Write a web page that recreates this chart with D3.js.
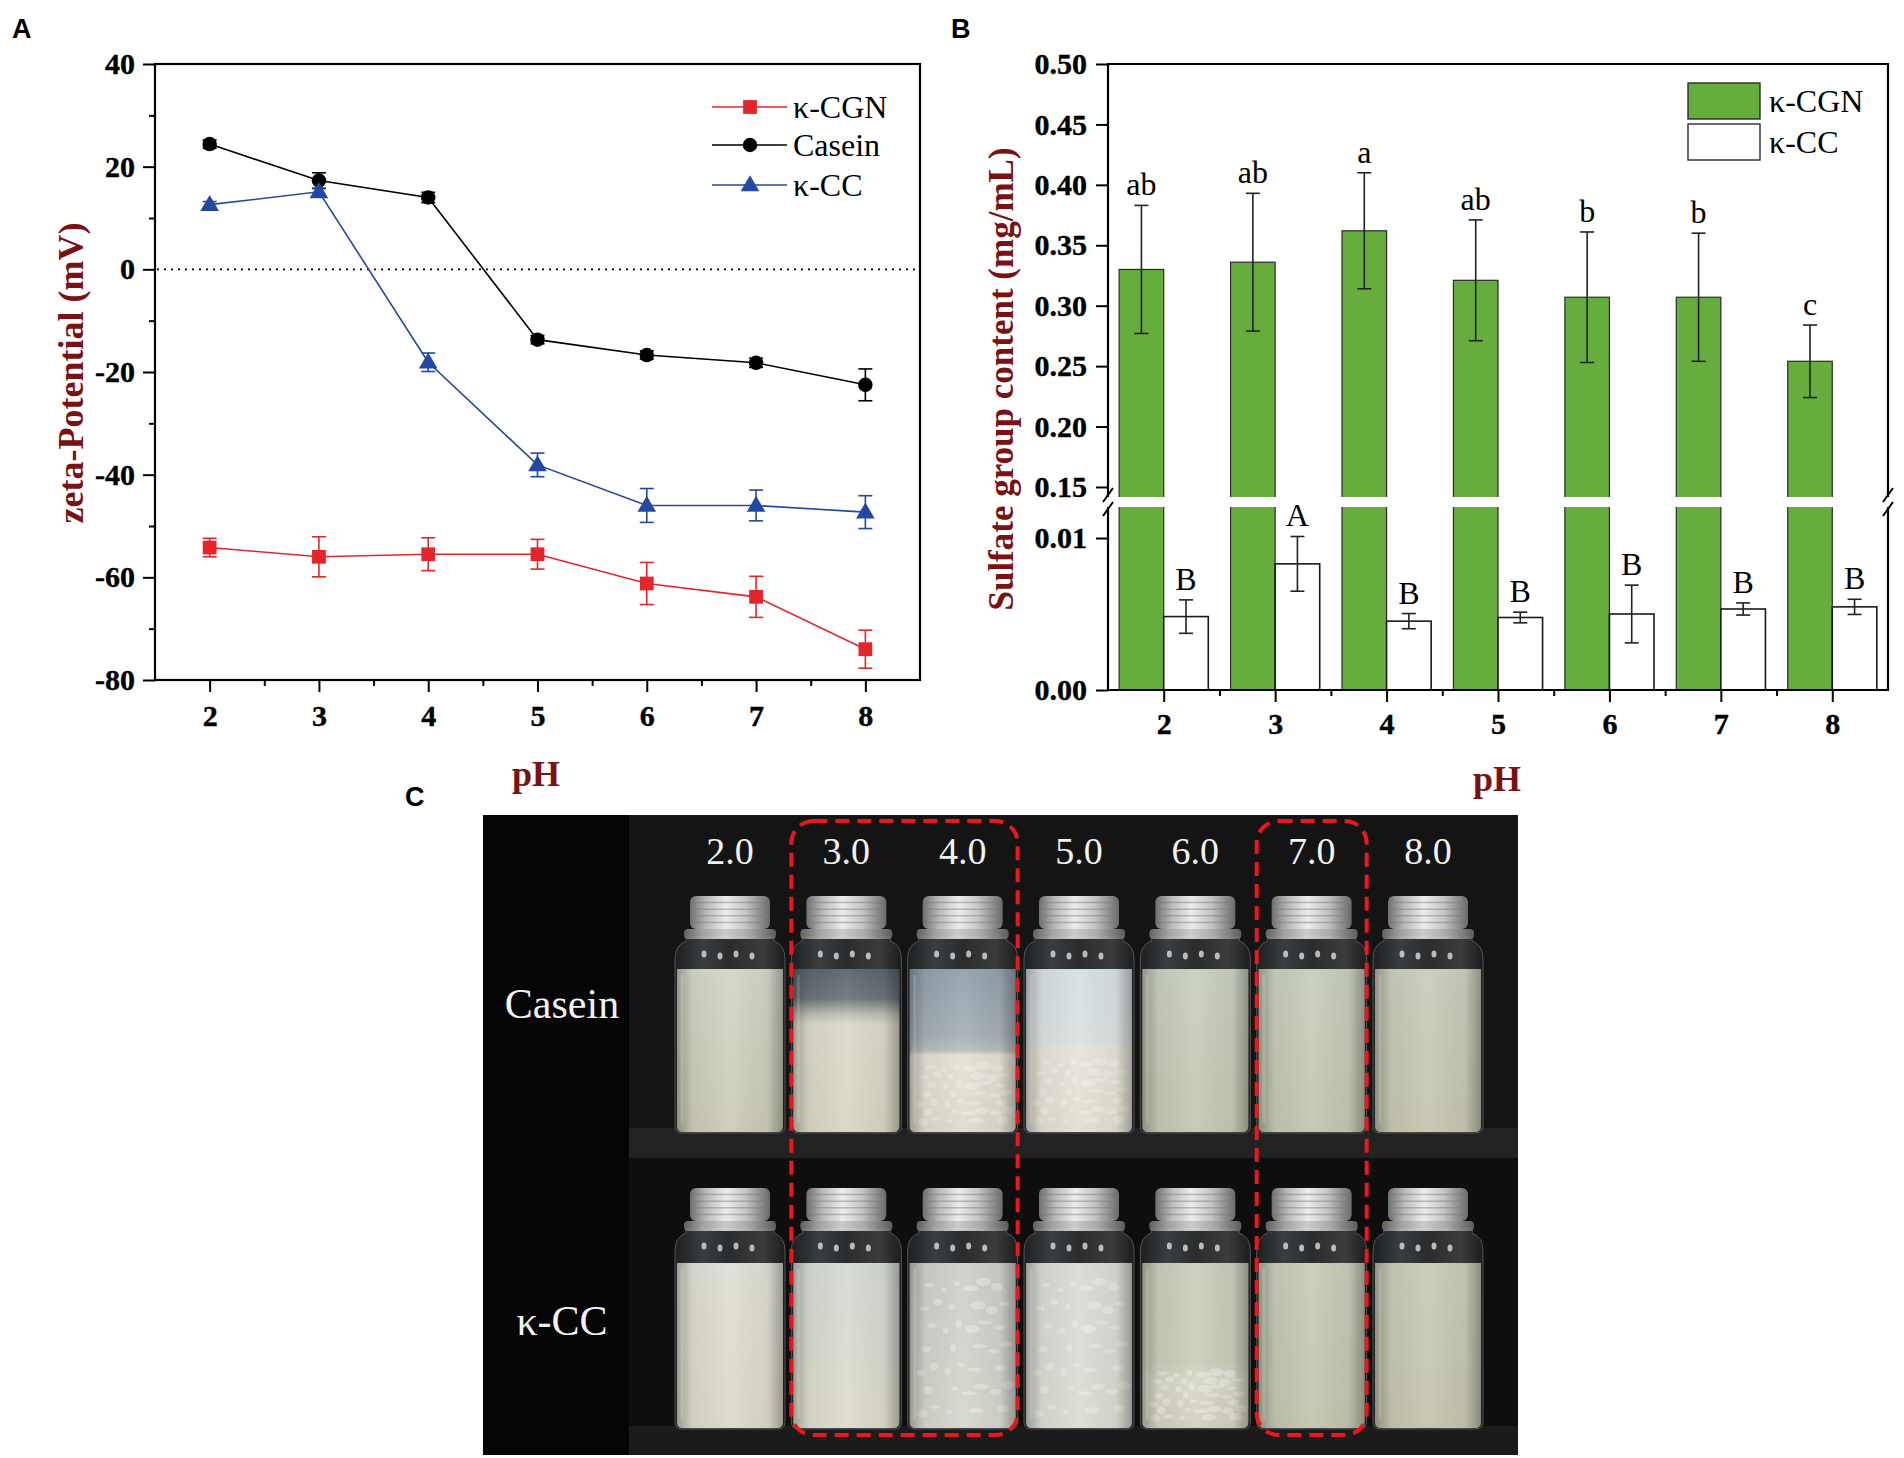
<!DOCTYPE html>
<html><head><meta charset="utf-8">
<script src="https://cdn.jsdelivr.net/npm/d3@7"></script>
<style>body{margin:0;background:#fff}svg{display:block}</style>
</head><body>
<svg id="fig" width="1904" height="1458"></svg>
<script>
// ---------------- data ----------------
const pH = [2, 3, 4, 5, 6, 7, 8];
const zetaCGN = [-54.2, -56.0, -55.5, -55.5, -61.2, -63.8, -74.0];
const zetaCGNErr = [1.8, 3.9, 3.2, 2.9, 4.1, 4.0, 3.7];
const zetaCasein = [24.4, 17.3, 14.0, -13.7, -16.7, -18.2, -22.5];
const zetaCaseinErr = [0.8, 1.5, 1.0, 0.8, 0.8, 0.9, 3.1];
const zetaCC = [12.6, 15.1, -18.1, -38.1, -46.0, -46.0, -47.3];
const zetaCCErr = [0.6, 0.6, 1.8, 2.3, 3.3, 3.0, 3.2];
const zetaTicks = [-80, -60, -40, -20, 0, 20, 40];
const zetaMinorTicks = [-70, -50, -30, -10, 10, 30];

const sulfCGN = [0.330, 0.336, 0.362, 0.321, 0.307, 0.307, 0.254];
const sulfCGNErr = [0.053, 0.057, 0.048, 0.050, 0.054, 0.053, 0.030];
const sulfCGNLetters = ["ab", "ab", "a", "ab", "b", "b", "c"];
const sulfCC = [0.00483, 0.0083, 0.00453, 0.00477, 0.0050, 0.00533, 0.00547];
const sulfCCErr = [0.0011, 0.0018, 0.0005, 0.00035, 0.0019, 0.0004, 0.0005];
const sulfCCLetters = ["B", "A", "B", "B", "B", "B", "B"];
const sulfUpperTicks = [0.15, 0.20, 0.25, 0.30, 0.35, 0.40, 0.45, 0.50];
const sulfLowerTicks = [0.00, 0.01];
const pHMinorTicks = [2.5, 3.5, 4.5, 5.5, 6.5, 7.5];

const photoPH = ["2.0", "3.0", "4.0", "5.0", "6.0", "7.0", "8.0"];
const photoRows = ["Casein", "κ-CC"];
const photoHighlight = [["3.0", "4.0"], ["7.0"]];

// ---------------- setup ----------------
const svg = d3.select("#fig");
svg.append("rect").attr("width", 1904).attr("height", 1458).attr("fill", "#fff");
const serif = "'Liberation Serif','Times New Roman',Times,serif";
const sans = "'Liberation Sans',Arial,Helvetica,sans-serif";
const titleColor = "#7a1214";
const defs = svg.append("defs");

function styleAxis(g, size) {
  g.select(".domain").remove();
  g.selectAll(".tick line").attr("stroke", "#000").attr("stroke-width", 2);
  g.selectAll(".tick text").attr("font-family", serif).attr("font-weight", "bold")
    .attr("font-size", size || 30).attr("fill", "#000").attr("stroke", "#000").attr("stroke-width", 0.4);
}

// ---------------- Panel A ----------------
const A = {left: 155, right: 920, top: 64, bottom: 680};
const xA = d3.scaleLinear().domain([1.5, 8.5]).range([A.left, A.right]);
const yA = d3.scaleLinear().domain([-80, 40]).range([A.bottom, A.top]);
const gA = svg.append("g");

gA.append("g").attr("transform", `translate(0,${A.bottom})`)
  .call(d3.axisBottom(xA).tickValues(pH).tickSize(12).tickSizeOuter(0).tickPadding(13).tickFormat(d3.format("d")))
  .call(g => styleAxis(g));
gA.append("g").attr("transform", `translate(0,${A.bottom})`)
  .call(d3.axisBottom(xA).tickValues(pHMinorTicks).tickSize(6).tickSizeOuter(0).tickFormat(""))
  .call(g => styleAxis(g));
gA.append("g").attr("transform", `translate(${A.left},0)`)
  .call(d3.axisLeft(yA).tickValues(zetaTicks).tickSize(12).tickSizeOuter(0).tickPadding(8).tickFormat(d3.format("d")))
  .call(g => styleAxis(g));
gA.append("g").attr("transform", `translate(${A.left},0)`)
  .call(d3.axisLeft(yA).tickValues(zetaMinorTicks).tickSize(6).tickSizeOuter(0).tickFormat(""))
  .call(g => styleAxis(g));
gA.selectAll(".tick text").text(function(){return this.textContent.replace("−", "-");});

gA.append("rect").attr("x", A.left).attr("y", A.top).attr("width", A.right - A.left).attr("height", A.bottom - A.top)
  .attr("fill", "none").attr("stroke", "#000").attr("stroke-width", 2.2);

gA.append("line").attr("x1", A.left + 2).attr("x2", A.right - 2).attr("y1", yA(0)).attr("y2", yA(0))
  .attr("stroke", "#000").attr("stroke-width", 1.6).attr("stroke-dasharray", "2 5");

const seriesA = [
  {name: "κ-CGN", vals: zetaCGN, err: zetaCGNErr, color: "#e3262b", shape: d3.symbolSquare, size: 190},
  {name: "Casein", vals: zetaCasein, err: zetaCaseinErr, color: "#000000", shape: d3.symbolCircle, size: 165},
  {name: "κ-CC", vals: zetaCC, err: zetaCCErr, color: "#2447a0", shape: d3.symbolTriangle, size: 150}
];
const lineA = d3.line().x(d => xA(d[0])).y(d => yA(d[1]));
seriesA.forEach(s => {
  const pts = pH.map((p, i) => [p, s.vals[i], s.err[i]]);
  const g = gA.append("g");
  g.append("path").attr("d", lineA(pts)).attr("fill", "none").attr("stroke", s.color).attr("stroke-width", 1.6);
  pts.forEach(d => {
    const x = xA(d[0]), y1 = yA(d[1] + d[2]), y2 = yA(d[1] - d[2]);
    g.append("line").attr("x1", x).attr("x2", x).attr("y1", y1).attr("y2", y2).attr("stroke", s.color).attr("stroke-width", 1.6);
    [y1, y2].forEach(y => g.append("line").attr("x1", x - 7).attr("x2", x + 7).attr("y1", y).attr("y2", y)
      .attr("stroke", s.color).attr("stroke-width", 1.6));
  });
  g.selectAll("path.m").data(pts).join("path").attr("class", "m")
    .attr("transform", d => `translate(${xA(d[0])},${yA(d[1]) + (s.shape === d3.symbolTriangle ? 1 : 0)})`)
    .attr("d", d3.symbol().type(s.shape).size(s.size)).attr("fill", s.color);
});

// legend A
const legA = gA.append("g");
seriesA.forEach((s, i) => {
  const y = [107, 145, 185][i];
  legA.append("line").attr("x1", 712).attr("x2", 787).attr("y1", y).attr("y2", y).attr("stroke", s.color).attr("stroke-width", 1.6);
  legA.append("path").attr("transform", `translate(750,${y + (s.shape === d3.symbolTriangle ? 1 : 0)})`)
    .attr("d", d3.symbol().type(s.shape).size(s.size)).attr("fill", s.color);
  legA.append("text").attr("x", 793).attr("y", y).attr("dy", "0.35em").attr("font-family", serif)
    .attr("font-size", 32).text(s.name);
});

gA.append("text").attr("transform", "translate(70,373) rotate(-90)").attr("text-anchor", "middle")
  .attr("dy", "0.35em").attr("font-family", serif).attr("font-weight", "bold").attr("font-size", 36)
  .attr("fill", titleColor).text("zeta-Potential (mV)");
gA.append("text").attr("x", 536).attr("y", 786).attr("text-anchor", "middle").attr("font-family", serif)
  .attr("font-weight", "bold").attr("font-size", 36).attr("fill", titleColor).text("pH");
svg.append("text").attr("x", 12).attr("y", 38).attr("font-family", sans).attr("font-weight", "bold")
  .attr("font-size", 27).text("A");

// ---------------- Panel B ----------------
const B = {left: 1108, right: 1888, top: 64, bottom: 690, brTop: 497, brBot: 507};
const xB = d3.scaleLinear().domain([1.5, 8.5]).range([B.left, B.right]);
const yBu = d3.scaleLinear().domain([0.1417, 0.5]).range([B.brTop, B.top]);
const yBl = d3.scaleLinear().domain([0, 0.01204]).range([B.bottom, B.brBot]);
const barW = xB(2.4) - xB(2);
const gB = svg.append("g");

gB.selectAll("rect.g").data(pH).join("rect").attr("class", "g")
  .attr("x", (p) => xB(p) - barW).attr("width", barW)
  .attr("y", (p, i) => yBu(sulfCGN[i])).attr("height", (p, i) => B.bottom - yBu(sulfCGN[i]))
  .attr("fill", "#67ad3d").attr("stroke", "#2b2b2b").attr("stroke-width", 1.2);
gB.selectAll("rect.w").data(pH).join("rect").attr("class", "w")
  .attr("x", (p) => xB(p)).attr("width", barW)
  .attr("y", (p, i) => yBl(sulfCC[i])).attr("height", (p, i) => B.bottom - yBl(sulfCC[i]))
  .attr("fill", "#fff").attr("stroke", "#1a1a1a").attr("stroke-width", 1.6);

gB.append("g").attr("transform", `translate(0,${B.bottom})`)
  .call(d3.axisBottom(xB).tickValues(pH).tickSize(12).tickSizeOuter(0).tickPadding(11).tickFormat(d3.format("d")))
  .call(g => styleAxis(g));
gB.append("g").attr("transform", `translate(0,${B.bottom})`)
  .call(d3.axisBottom(xB).tickValues(pHMinorTicks).tickSize(6).tickSizeOuter(0).tickFormat(""))
  .call(g => styleAxis(g));
gB.append("g").attr("transform", `translate(${B.left},0)`)
  .call(d3.axisLeft(yBu).tickValues(sulfUpperTicks).tickSize(12).tickSizeOuter(0).tickPadding(9).tickFormat(d3.format(".2f")))
  .call(g => styleAxis(g));
gB.append("g").attr("transform", `translate(${B.left},0)`)
  .call(d3.axisLeft(yBl).tickValues(sulfLowerTicks).tickSize(12).tickSizeOuter(0).tickPadding(9).tickFormat(d3.format(".2f")))
  .call(g => styleAxis(g));

gB.append("path").attr("d", `M${B.left},${B.bottom}V${B.top}H${B.right}V${B.bottom}Z`)
  .attr("fill", "none").attr("stroke", "#000").attr("stroke-width", 2.2);
// break gap
gB.append("rect").attr("x", B.left - 3).attr("width", B.right - B.left + 6).attr("y", B.brTop).attr("height", B.brBot - B.brTop)
  .attr("fill", "#fff");
[B.left, B.right].forEach(x => {
  [B.brTop - 2, B.brBot + 2].forEach(y => {
    gB.append("line").attr("x1", x - 5).attr("y1", y + 7).attr("x2", x + 5).attr("y2", y - 7)
      .attr("stroke", "#000").attr("stroke-width", 2);
  });
});

function errBar(g, x, y1, y2) {
  g.append("line").attr("x1", x).attr("x2", x).attr("y1", y1).attr("y2", y2).attr("stroke", "#222").attr("stroke-width", 1.6);
  [y1, y2].forEach(y => g.append("line").attr("x1", x - 7).attr("x2", x + 7).attr("y1", y).attr("y2", y)
    .attr("stroke", "#222").attr("stroke-width", 1.6));
}
pH.forEach((p, i) => {
  const xg = xB(p) - barW / 2, xw = xB(p) + barW / 2;
  errBar(gB, xg, yBu(sulfCGN[i] + sulfCGNErr[i]), yBu(sulfCGN[i] - sulfCGNErr[i]));
  errBar(gB, xw, yBl(sulfCC[i] + sulfCCErr[i]), yBl(sulfCC[i] - sulfCCErr[i]));
  gB.append("text").attr("x", xg).attr("y", yBu(sulfCGN[i] + sulfCGNErr[i]) - 10).attr("text-anchor", "middle")
    .attr("font-family", serif).attr("font-size", 32).text(sulfCGNLetters[i]);
  gB.append("text").attr("x", xw).attr("y", yBl(sulfCC[i] + sulfCCErr[i]) - 10).attr("text-anchor", "middle")
    .attr("font-family", serif).attr("font-size", 32).text(sulfCCLetters[i]);
});

// legend B
[["κ-CGN", "#67ad3d"], ["κ-CC", "#ffffff"]].forEach((d, i) => {
  const y = 83 + i * 41;
  gB.append("rect").attr("x", 1688).attr("y", y).attr("width", 72).attr("height", 36)
    .attr("fill", d[1]).attr("stroke", "#2b2b2b").attr("stroke-width", 1.4);
  gB.append("text").attr("x", 1769).attr("y", y + 29).attr("font-family", serif).attr("font-size", 32).text(d[0]);
});

gB.append("text").attr("transform", "translate(1001,379) rotate(-90)").attr("text-anchor", "middle")
  .attr("dy", "0.35em").attr("font-family", serif).attr("font-weight", "bold").attr("font-size", 35)
  .attr("fill", titleColor).text("Sulfate group content (mg/mL)");
gB.append("text").attr("x", 1497).attr("y", 791).attr("text-anchor", "middle").attr("font-family", serif)
  .attr("font-weight", "bold").attr("font-size", 36).attr("fill", titleColor).text("pH");
svg.append("text").attr("x", 951).attr("y", 38).attr("font-family", sans).attr("font-weight", "bold")
  .attr("font-size", 27).text("B");

// ---------------- Panel C (photo, drawn) ----------------
const C = {x0: 483, y0: 815, x1: 1518, y1: 1455};
svg.append("text").attr("x", 405).attr("y", 806).attr("font-family", sans).attr("font-weight", "bold")
  .attr("font-size", 27).text("C");
const gC = svg.append("g");
gC.append("rect").attr("x", C.x0).attr("y", C.y0).attr("width", C.x1 - C.x0).attr("height", C.y1 - C.y0).attr("fill", "#050505");
gC.append("rect").attr("x", 629).attr("y", C.y0).attr("width", C.x1 - 629).attr("height", 341).attr("fill", "#141414");
gC.append("rect").attr("x", 629).attr("y", 1128).attr("width", C.x1 - 629).attr("height", 30).attr("fill", "#222");
gC.append("rect").attr("x", 629).attr("y", 1158).attr("width", C.x1 - 629).attr("height", C.y1 - 1158).attr("fill", "#0e0e0e");
gC.append("rect").attr("x", 629).attr("y", 1426).attr("width", C.x1 - 629).attr("height", C.y1 - 1426).attr("fill", "#1b1b1b");

const xC = d3.scalePoint().domain(photoPH).range([730, 1428]);
gC.selectAll("text.ph").data(photoPH).join("text").attr("class", "ph")
  .attr("x", d => xC(d)).attr("y", 864).attr("text-anchor", "middle").attr("font-family", serif)
  .attr("font-size", 38).attr("fill", "#f2f2f2").text(d => d);
[[photoRows[0], 1003], [photoRows[1], 1320]].forEach(d => {
  gC.append("text").attr("x", 562).attr("y", d[1]).attr("dy", "0.35em").attr("text-anchor", "middle")
    .attr("font-family", serif).attr("font-size", 42).attr("fill", "#f2f2f2").text(d[0]);
});

// silver cap gradient
const cg = defs.append("linearGradient").attr("id", "cap").attr("x1", 0).attr("x2", 1).attr("y1", 0).attr("y2", 0);
[[0, "#6f6f6f"], [0.2, "#b9b9b9"], [0.45, "#ececec"], [0.7, "#c4c4c4"], [1, "#6a6a6a"]].forEach(s =>
  cg.append("stop").attr("offset", s[0]).attr("stop-color", s[1]));
const gg = defs.append("linearGradient").attr("id", "glass").attr("x1", 0).attr("x2", 1).attr("y1", 0).attr("y2", 0);
[[0, "#1d1f21"], [0.25, "#3b3e40"], [0.5, "#2a2c2e"], [0.8, "#3a3c3e"], [1, "#1b1c1e"]].forEach(s =>
  gg.append("stop").attr("offset", s[0]).attr("stop-color", s[1]));
const sg = defs.append("linearGradient").attr("id", "shade").attr("x1", 0).attr("x2", 1).attr("y1", 0).attr("y2", 0);
[[0, "#000", 0.28], [0.15, "#000", 0.05], [0.5, "#fff", 0.06], [0.85, "#000", 0.05], [1, "#000", 0.3]].forEach(s =>
  sg.append("stop").attr("offset", s[0]).attr("stop-color", s[1]).attr("stop-opacity", s[2]));

const liquidStops = [
  [ // Casein row
    [[0, "#d3d6c8"], [1, "#cbcbb6"]],
    [[0, "#5a656e"], [0.18, "#6b757b"], [0.27, "#b8bab2"], [0.34, "#dddacc"], [1, "#dad6c5"]],
    [[0, "#93a1ab"], [0.42, "#a8b2b7"], [0.5, "#bcc0bd"], [0.53, "#e4e1d6"], [1, "#dfdbcd"]],
    [[0, "#d6dfe2"], [0.44, "#dce2e1"], [0.5, "#e6e4da"], [1, "#e2dfd2"]],
    [[0, "#c9cfc1"], [1, "#c6c7b2"]],
    [[0, "#c8cebe"], [1, "#c5c6b0"]],
    [[0, "#c9cdbd"], [1, "#c6c6b0"]]
  ],
  [ // κ-CC row
    [[0, "#e0dfd4"], [1, "#dcdaca"]],
    [[0, "#d6dad4"], [1, "#dedccd"]],
    [[0, "#cdd0cb"], [1, "#d6d7cd"]],
    [[0, "#d9dbd6"], [1, "#dcdcd3"]],
    [[0, "#cacebd"], [0.6, "#cccebb"], [0.72, "#d7d7c9"], [1, "#d3d2c1"]],
    [[0, "#c8ccba"], [1, "#c4c5b0"]],
    [[0, "#c9ccb9"], [1, "#c5c5af"]]
  ]
];
const flocs = [[false, false, true, true, false, false, false], [false, false, true, true, true, false, false]];
const flocStart = [[0, 0, 0.55, 0.52, 0, 0, 0], [0, 0, 0.05, 0.05, 0.62, 0, 0]];
const rowGeom = [
  {capTop: 896, capBot: 937, liqTop: 969, bottom: 1133},
  {capTop: 1188, capBot: 1229, liqTop: 1263, bottom: 1429}
];

rowGeom.forEach((r, ri) => {
  photoPH.forEach((ph, vi) => {
    const cx = xC(ph), hw = 55, nw = 44;
    const gid = `liq${ri}_${vi}`;
    const lg = defs.append("linearGradient").attr("id", gid).attr("x1", 0).attr("x2", 0).attr("y1", 0).attr("y2", 1);
    liquidStops[ri][vi].forEach(s => lg.append("stop").attr("offset", s[0]).attr("stop-color", s[1]));
    const v = gC.append("g");
    const cb = r.capBot;
    v.append("path").attr("d",
      `M${cx - nw},${cb} L${cx - nw},${cb + 4} Q${cx - hw},${cb + 8} ${cx - hw},${cb + 22} L${cx - hw},${r.bottom - 7}
       Q${cx - hw},${r.bottom} ${cx - hw + 7},${r.bottom} L${cx + hw - 7},${r.bottom} Q${cx + hw},${r.bottom} ${cx + hw},${r.bottom - 7}
       L${cx + hw},${cb + 22} Q${cx + hw},${cb + 8} ${cx + nw},${cb + 4} L${cx + nw},${cb} Z`)
      .attr("fill", "url(#glass)").attr("stroke", "#555").attr("stroke-width", 1);
    const liqPath = `M${cx - hw + 2},${r.liqTop} L${cx + hw - 2},${r.liqTop} L${cx + hw - 2},${r.bottom - 7}
       Q${cx + hw - 2},${r.bottom - 1} ${cx + hw - 8},${r.bottom - 1} L${cx - hw + 8},${r.bottom - 1}
       Q${cx - hw + 2},${r.bottom - 1} ${cx - hw + 2},${r.bottom - 7} Z`;
    v.append("path").attr("d", liqPath).attr("fill", `url(#${gid})`);
    if (flocs[ri][vi]) {
      const y0 = r.liqTop + flocStart[ri][vi] * (r.bottom - r.liqTop);
      for (let k = 0; k < 40; k++) {
        const fx = cx - hw + 8 + ((k * 0.7548777 + 0.3) % 1) * (2 * hw - 16);
        const fy = y0 + 4 + ((k * 0.5698403 + 0.1) % 1) * (r.bottom - 12 - y0);
        v.append("ellipse").attr("cx", fx).attr("cy", fy).attr("rx", 3 + (k % 4) * 1.5).attr("ry", 2 + (k % 3))
          .attr("fill", "#f3f2ec").attr("opacity", 0.45);
      }
    }
    v.append("path").attr("d", liqPath).attr("fill", "url(#shade)");
    v.append("line").attr("x1", cx - hw + 7).attr("x2", cx - hw + 7).attr("y1", r.liqTop + 6).attr("y2", r.bottom - 10)
      .attr("stroke", "#ffffff").attr("stroke-opacity", 0.15).attr("stroke-width", 3);
    [-26, -10, 6, 22].forEach((dx, k) => v.append("ellipse").attr("cx", cx + dx).attr("cy", cb + 17 + (k % 2) * 2)
      .attr("rx", 2.5).attr("ry", 3.5).attr("fill", "#e8e8e8").attr("opacity", 0.75));
    v.append("rect").attr("x", cx - nw - 2).attr("y", cb - 8).attr("width", 2 * nw + 4).attr("height", 10).attr("rx", 4)
      .attr("fill", "url(#cap)").attr("opacity", 0.85);
    v.append("rect").attr("x", cx - 40).attr("y", r.capTop).attr("width", 80).attr("height", cb - 8 - r.capTop)
      .attr("rx", 6).attr("fill", "url(#cap)");
    for (let k = 1; k < 5; k++) {
      const yy = r.capTop + k * (cb - 8 - r.capTop) / 5;
      v.append("line").attr("x1", cx - 39).attr("x2", cx + 39).attr("y1", yy).attr("y2", yy)
        .attr("stroke", "#7a7a7a").attr("stroke-opacity", 0.45).attr("stroke-width", 1.5);
    }
  });
});

// red dashed boxes
photoHighlight.forEach(grp => {
  const xL = xC(grp[0]) - 55, xR = xC(grp[grp.length - 1]) + 55;
  gC.append("rect").attr("x", xL).attr("y", 821).attr("width", xR - xL).attr("height", 614).attr("rx", 22)
    .attr("fill", "none").attr("stroke", "#e8191e").attr("stroke-width", 4).attr("stroke-dasharray", "14 8");
});
</script>
</body></html>
